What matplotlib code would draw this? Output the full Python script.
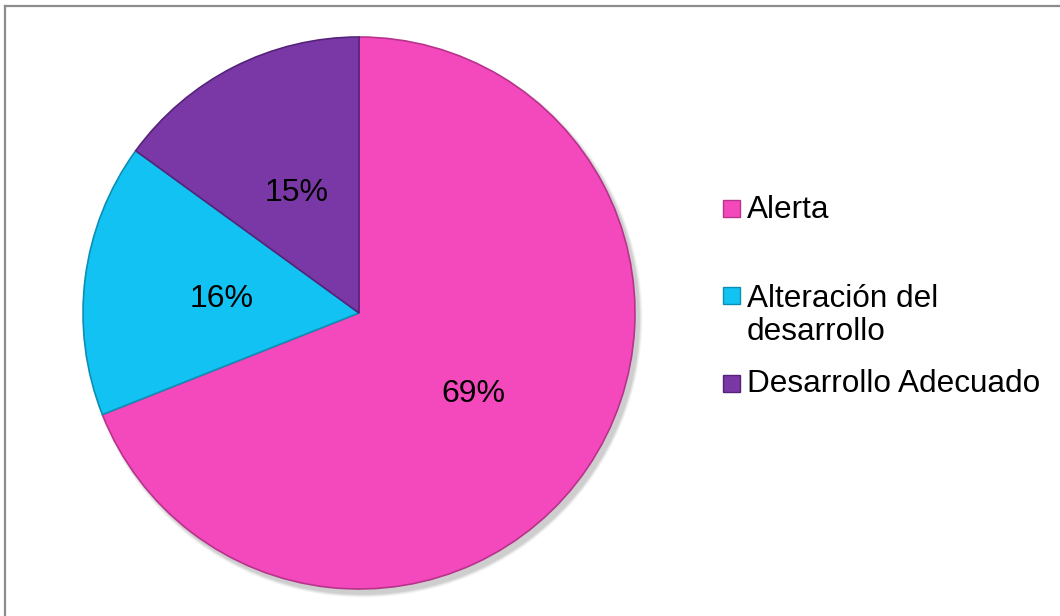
import matplotlib
matplotlib.use('Agg')
import matplotlib.pyplot as plt
from matplotlib.patches import Rectangle
from matplotlib.lines import Line2D

# data
labels = ['Alerta', 'Alteración del\ndesarrollo', 'Desarrollo Adecuado']
values = [69, 16, 15]
colors = ['#F449BC', '#12C2F2', '#7A37A6']
edge_colors = ['#B8338C', '#0B8FB5', '#55247A']

plt.rcParams['font.family'] = ['Liberation Sans', 'DejaVu Sans']

W, H = 1060, 616
fig = plt.figure(figsize=(W / 100, H / 100), dpi=100)
ax = fig.add_axes([0, 0, 1, 1])

# pie in pixel coordinates (y up)
cx, cy, r = 359, H - 313, 276

# soft shadow
for k, a in zip(range(6, 0, -1), [0.03, 0.04, 0.05, 0.06, 0.07, 0.08]):
    ax.add_patch(plt.Circle((cx + 4, cy - 5), r + k * 0.6, color='#606060',
                            alpha=a, lw=0, zorder=0))

wedges, texts, autotexts = ax.pie(
    values, colors=colors, startangle=90, counterclock=False,
    center=(cx, cy), radius=r, autopct='%1.0f%%', pctdistance=0.5,
    wedgeprops=dict(linewidth=1.2), textprops=dict(fontsize=23, color='black'),
    frame=True)
for w, ec in zip(wedges, edge_colors):
    w.set_edgecolor(ec)
for t in autotexts:
    x, y = t.get_position()
    t.set_position((x, y - 3))

ax.set_xlim(0, W)
ax.set_ylim(0, H)
ax.set_aspect('equal')
ax.axis('off')

# legend drawn by hand (marker aligned with first text line, as in the original)
leg_x = 723
marker_centers = [208, 295, 383]
last_baselines = [218, 340, 392]
for lab, col, ec, yc, yb in zip(labels, colors, edge_colors, marker_centers, last_baselines):
    ax.add_patch(Rectangle((leg_x, H - yc - 8.5), 17, 17, facecolor=col,
                           edgecolor=ec, lw=1))
    ax.text(leg_x + 24, H - yb, lab, fontsize=22.7, va='baseline', ha='left',
            linespacing=1.15)

# chart frame (top and left edges visible)
fig.add_artist(Line2D([5 / W, 1], [1 - 5.5 / H, 1 - 5.5 / H],
                      color='#8C8C8C', lw=1.6, transform=fig.transFigure))
fig.add_artist(Line2D([5 / W, 5 / W], [0, 1 - 5.5 / H],
                      color='#8C8C8C', lw=1.6, transform=fig.transFigure))

fig.savefig('out.png', dpi=100)
